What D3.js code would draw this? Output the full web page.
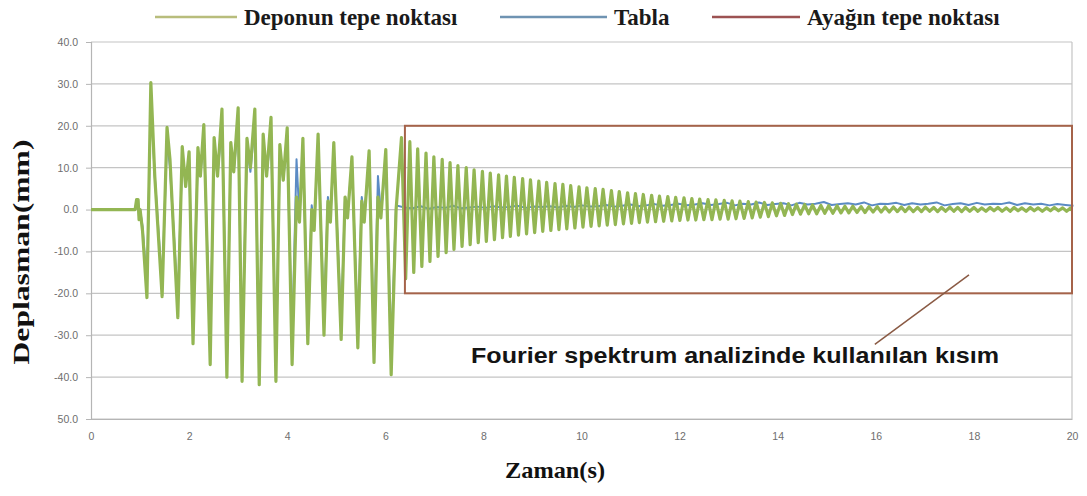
<!DOCTYPE html>
<html><head><meta charset="utf-8">
<script src="https://cdn.jsdelivr.net/npm/d3@7"></script>
<style>body{margin:0;background:#fff}svg{display:block}</style>
</head><body><svg id="c" width="1087" height="496"></svg>
<script>
// ---- data ----
const seriesNames = ["Deponun tepe noktası", "Tabla", "Ayağın tepe noktası"];
const yTickValues = [40, 30, 20, 10, 0, -10, -20, -30, -40, -50];
const yTickLabels = ["40.0", "30.0", "20.0", "10.0", "0.0", "-10.0", "-20.0", "-30.0", "-40.0", "50.0"];
const xTickValues = [0, 2, 4, 6, 8, 10, 12, 14, 16, 18, 20];

// strong-motion part (time s)
const motionTime = [0, 0.90, 0.93, 0.96, 0.98, 1.00, 1.05, 1.14, 1.22, 1.30, 1.45, 1.55, 1.61, 1.77, 1.86, 1.93, 2.00, 2.08, 2.18, 2.23, 2.30, 2.43, 2.51, 2.58, 2.67, 2.77, 2.85, 2.91, 3.00, 3.08, 3.18, 3.25, 3.34, 3.43, 3.51, 3.58, 3.67, 3.77, 3.85, 3.92, 4.00, 4.10, 4.19, 4.25, 4.32, 4.42, 4.50, 4.55, 4.63, 4.75, 4.83, 4.88, 4.95, 5.10, 5.18, 5.23, 5.32, 5.44, 5.52, 5.57, 5.67, 5.77, 5.85, 5.91, 6.01, 6.12, 6.22];
// Deponun tepe noktası (mm)
const depoValue = [0, 0, 2.4, 2.4, -2.4, 0, -5, -21, 30.3, 8, -20.8, 19.6, 12, -25.8, 15, 5.5, 13.8, -32, 14.8, 8, 20.3, -37, 17.2, 8, 24, -40, 16, 9, 24.3, -41, 17, 10, 24, -41.8, 18, 8, 22, -41, 15.5, 7, 19.5, -37, 3, -3, 17, -32, 0, -5, 18, -30, 2, -3, 16, -31, 3, -2, 12.6, -33, 2, -3, 14, -36.5, 3, -2, 14.3, -39.4, 0];
// Tabla (mm)
const tablaValue = [0, 0, 2, 2, -2, 0, -4, -18, 26, 8, -18, 17, 10, -22, 13, 6, 12, -28, 13, 8, 18, -32, 15, 8, 21, -35, 14, 9, 21, -36, 15, 9, 21, -37, 16, 8, 19, -36, 13, 7, 17, -32, 12, -2, 15, -28, 1, -4, 16, -26, 3, -2, 14, -27, 3, -1, 11, -29, 3, -2, 12, -32, 8, -1, 12, -34, 1];

// free-vibration part: cycle peak times, positive and negative peaks of Deponun tepe noktası
const decayTime = [6.33, 6.50, 6.66, 6.83, 6.99, 7.16, 7.32, 7.48, 7.65, 7.81, 7.98, 8.14, 8.31, 8.47, 8.63, 8.80, 8.96, 9.13, 9.29, 9.46, 9.62, 9.78, 9.95, 10.11, 10.28, 10.44, 10.61, 10.77, 10.94, 11.10, 11.26, 11.43, 11.59, 11.76, 11.92, 12.09, 12.25, 12.41, 12.58, 12.74, 12.91, 13.07, 13.23, 13.40, 13.56, 13.73, 13.89, 14.06, 14.22, 14.38, 14.55, 14.71, 14.88, 15.04, 15.21, 15.37, 15.53, 15.70, 15.86, 16.03, 16.19, 16.36, 16.52, 16.68, 16.85, 17.01, 17.18, 17.34, 17.51, 17.67, 17.83, 18.00, 18.16, 18.33, 18.49, 18.66, 18.82, 18.98, 19.15, 19.31, 19.48, 19.64, 19.81, 19.97];
const decayMax = [17.2, 16.2, 14.5, 13.5, 12.6, 12.0, 11.2, 10.5, 10.0, 9.5, 9.1, 8.7, 8.3, 8.0, 7.7, 7.4, 7.1, 6.8, 6.5, 6.2, 6.0, 5.7, 5.4, 5.2, 5.0, 4.8, 4.5, 4.3, 4.0, 3.8, 3.6, 3.4, 3.2, 3.1, 2.9, 2.8, 2.6, 2.5, 2.4, 2.3, 2.2, 2.1, 2.0, 1.9, 1.8, 1.7, 1.6, 1.5, 1.4, 1.3, 1.2, 1.1, 1.0, 0.9, 0.9, 0.8, 0.8, 0.7, 0.7, 0.7, 0.6, 0.6, 0.6, 0.6, 0.5, 0.6, 0.5, 0.5, 0.6, 0.5, 0.5, 0.5, 0.4, 0.5, 0.5, 0.4, 0.5, 0.4, 0.5, 0.4, 0.4, 0.5, 0.4, 0.4];
const decayMin = [-16.5, -15.0, -13.6, -12.4, -11.2, -10.3, -9.5, -8.8, -8.4, -7.9, -7.6, -7.2, -6.7, -6.4, -6.1, -5.8, -5.5, -5.2, -5.0, -4.8, -4.6, -4.4, -4.2, -4.0, -3.9, -3.7, -3.6, -3.4, -3.3, -3.1, -3.0, -2.9, -2.8, -2.7, -2.6, -2.5, -2.5, -2.4, -2.4, -2.3, -2.3, -2.2, -2.1, -2.0, -1.8, -1.7, -1.5, -1.4, -1.2, -1.1, -1.0, -1.0, -0.9, -0.9, -0.8, -0.8, -0.7, -0.7, -0.6, -0.6, -0.6, -0.5, -0.5, -0.5, -0.5, -0.4, -0.5, -0.4, -0.4, -0.5, -0.4, -0.4, -0.4, -0.3, -0.4, -0.4, -0.3, -0.4, -0.3, -0.4, -0.3, -0.3, -0.4, -0.3];
// Tabla in the free-vibration part
const tablaDecay = [0.5, 0.3, 0.8, 0.2, 0.6, 0.4, 0.9, 0.3, 0.5, 0.7, 0.4, 0.8, 0.5, 0.6, 0.9, 0.4, 0.7, 0.6, 0.8, 0.5, 0.9, 0.6, 1.0, 0.7, 0.8, 1.1, 0.7, 0.9, 1.2, 0.8, 1.0, 1.3, 0.9, 1.1, 1.4, 1.0, 1.2, 1.5, 1.1, 1.3, 1.6, 1.0, 1.4, 1.2, 1.7, 1.1, 1.3, 1.5, 1.0, 1.6, 1.2, 1.4, 1.8, 1.1, 1.3, 1.5, 1.2, 1.7, 1.0, 1.4, 1.3, 1.6, 1.1, 1.5, 1.2, 1.4, 1.7, 1.0, 1.3, 1.5, 1.1, 1.6, 1.2, 1.4, 1.3, 1.7, 1.1, 1.5, 1.2, 1.4, 1.0, 1.3, 1.1, 0.9];

// region used for Fourier spectrum analysis
const regionTime = [6.4, 20];
const regionValue = [20, -20];
const annotationText = "Fourier spektrum analizinde kullanılan kısım";
const annotationFrom = [15.98, -32.2];
const annotationTo = [17.9, -15.6];

// ---- build series ----
const depo = motionTime.map((t, i) => [t, depoValue[i]]);
decayTime.forEach((t, i) => {
  depo.push([t, decayMax[i]]);
  const next = i + 1 < decayTime.length ? decayTime[i + 1] : 20;
  depo.push([(t + next) / 2, decayMin[i]]);
});
const tabla = motionTime.map((t, i) => [t, tablaValue[i]]);
decayTime.forEach((t, i) => tabla.push([t + 0.06, tablaDecay[i]]));

// ---- drawing ----
const svg = d3.select("#c");
const x = d3.scaleLinear().domain([0, 20]).range([91, 1072]);
const y = d3.scaleLinear().domain([-50, 40]).range([419, 42]);

svg.append("g").selectAll("line").data(yTickValues).join("line")
  .attr("x1", x(0)).attr("x2", x(20))
  .attr("y1", d => y(d)).attr("y2", d => y(d))
  .attr("stroke", "#c4c4c4").attr("stroke-width", 1.2);
svg.append("line").attr("x1", x(20)).attr("x2", x(20)).attr("y1", y(40)).attr("y2", y(-50))
  .attr("stroke", "#c4c4c4").attr("stroke-width", 1.2);

const yAxis = d3.axisLeft(y).tickValues(yTickValues).tickSize(5).tickPadding(8)
  .tickFormat((d, i) => yTickLabels[i]);
const gy = svg.append("g").attr("transform", `translate(${x(0)},0)`).call(yAxis);
gy.select(".domain").attr("stroke", "#b5b5b5").attr("stroke-width", 1.2);
gy.selectAll(".tick line").attr("stroke", "#b5b5b5");
gy.selectAll("text").attr("font-family", "Liberation Sans, Arial, sans-serif")
  .attr("font-size", 10.5).attr("fill", "#6e6e6e");

const xAxis = d3.axisBottom(x).tickValues(xTickValues).tickSize(0).tickPadding(14);
const gx = svg.append("g").attr("transform", `translate(0,${y(-50)})`).call(xAxis);
gx.select(".domain").attr("stroke", "#b5b5b5").attr("stroke-width", 1.2);
gx.selectAll("text").attr("font-family", "Liberation Sans, Arial, sans-serif")
  .attr("font-size", 10.5).attr("fill", "#6e6e6e");

const line = d3.line().x(d => x(d[0])).y(d => y(d[1]));

svg.append("path").datum(tabla).attr("d", line)
  .attr("fill", "none").attr("stroke", "#5b8bc4").attr("stroke-width", 2).attr("stroke-linejoin", "round");
svg.append("path").datum(depo).attr("d", line)
  .attr("fill", "none").attr("stroke", "#93b653").attr("stroke-width", 3.2).attr("stroke-linejoin", "round");

svg.append("rect")
  .attr("x", x(regionTime[0])).attr("y", y(regionValue[0]))
  .attr("width", x(regionTime[1]) - x(regionTime[0]))
  .attr("height", y(regionValue[1]) - y(regionValue[0]))
  .attr("fill", "none").attr("stroke", "#a5634a").attr("stroke-width", 2);

svg.append("line")
  .attr("x1", x(annotationFrom[0])).attr("y1", y(annotationFrom[1]))
  .attr("x2", x(annotationTo[0])).attr("y2", y(annotationTo[1]))
  .attr("stroke", "#8a5a44").attr("stroke-width", 1.5);
svg.append("text").attr("x", 471).attr("y", 363)
  .attr("font-family", "Liberation Sans, Arial, sans-serif").attr("font-weight", "bold")
  .attr("font-size", 22).attr("textLength", 528).attr("lengthAdjust", "spacingAndGlyphs")
  .attr("fill", "#141414").text(annotationText);

svg.append("text").attr("transform", "translate(29,252) rotate(-90)")
  .attr("text-anchor", "middle").attr("font-family", "Liberation Serif, Times New Roman, serif")
  .attr("font-weight", "bold").attr("font-size", 23).attr("textLength", 225).attr("lengthAdjust", "spacingAndGlyphs")
  .attr("fill", "#111").text("Deplasman(mm)");
svg.append("text").attr("x", 555).attr("y", 478)
  .attr("text-anchor", "middle").attr("font-family", "Liberation Serif, Times New Roman, serif")
  .attr("font-weight", "bold").attr("font-size", 23).attr("textLength", 100).attr("lengthAdjust", "spacingAndGlyphs")
  .attr("fill", "#111").text("Zaman(s)");

const legendColors = ["#b8bd7c", "#6f93b2", "#9c5252"];
const legendLineX = [155, 500, 712];
const legendLineW = [82, 107, 88];
const leg = svg.append("g");
seriesNames.forEach((name, i) => {
  leg.append("line").attr("x1", legendLineX[i]).attr("x2", legendLineX[i] + legendLineW[i])
    .attr("y1", 17).attr("y2", 17).attr("stroke", legendColors[i]).attr("stroke-width", 2.5);
  leg.append("text").attr("x", legendLineX[i] + legendLineW[i] + 7).attr("y", 25)
    .attr("font-family", "Liberation Serif, Times New Roman, serif").attr("font-weight", "bold")
    .attr("font-size", 23).attr("fill", "#1a1a1a").text(name);
});
</script></body></html>
